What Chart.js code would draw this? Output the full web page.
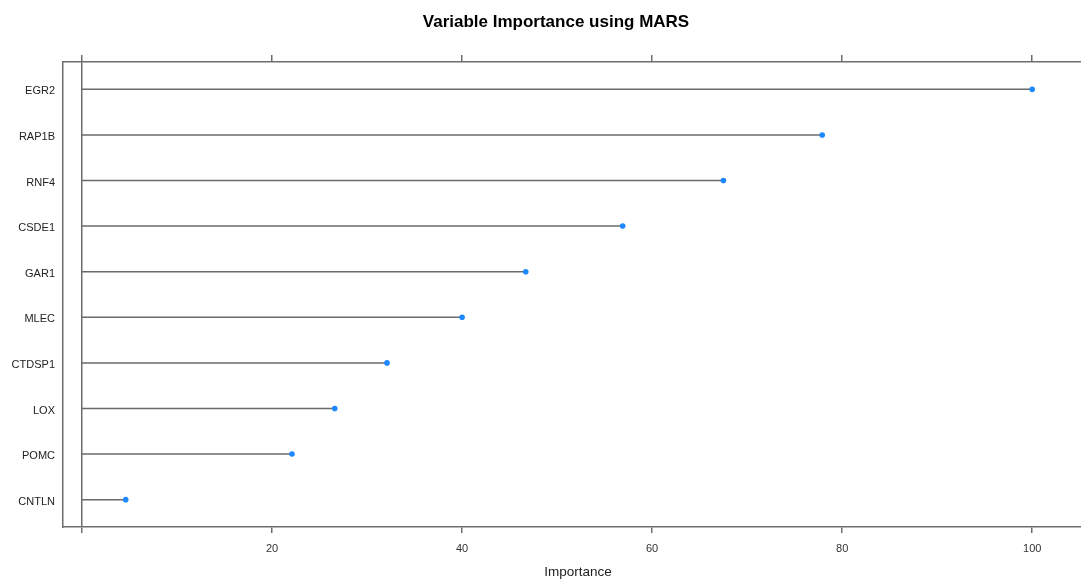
<!DOCTYPE html>
<html>
<head>
<meta charset="utf-8">
<script src="https://cdn.jsdelivr.net/npm/chart.js@4/dist/chart.umd.min.js"></script>
<style>
  html, body { margin: 0; padding: 0; overflow: hidden; background: #fff; }
  #wrap { width: 1112px; height: 580px; }
</style>
</head>
<body>
<div id="wrap"><canvas id="chart0" width="1112" height="580"></canvas></div>
<script>
// variables, top to bottom
var variables = ['EGR2', 'RAP1B', 'RNF4', 'CSDE1', 'GAR1', 'MLEC', 'CTDSP1', 'LOX', 'POMC', 'CNTLN'];
var importance = [100, 77.9, 67.5, 56.9, 46.7, 40.0, 32.1, 26.6, 22.1, 4.6];
var xTicks = [0, 20, 40, 60, 80, 100];

var axisColor = '#6e6e6e';
var labelFont = { family: 'Liberation Sans, Arial, sans-serif', size: 11 };

// one little line dataset per variable: from 0 to its importance
var datasets = variables.map(function (name, i) {
    return {
        label: name,
        data: [{ x: 0, y: i + 1 }, { x: importance[i], y: i + 1 }],
        borderColor: '#6a6a6a',
        borderWidth: 1.5,
        pointRadius: [0, 2.8],
        pointHoverRadius: [0, 2.8],
        pointBackgroundColor: '#1e88ff',
        pointBorderWidth: 0,
        showLine: true,
        fill: false
    };
});

function fixHeight(h) { return function (scale) { scale.height = h; }; }

var ctx = document.getElementById('chart0').getContext('2d');
var chart = new Chart(ctx, {
    type: 'scatter',
    data: { datasets: datasets },
    options: {
        responsive: false,
        animation: false,
        layout: { padding: 0 },
        plugins: {
            legend: { display: false },
            tooltip: { enabled: false },
            title: {
                display: true,
                text: 'Variable Importance using MARS',
                color: '#000',
                font: { family: 'Liberation Sans, Arial, sans-serif', size: 17, weight: 'bold' },
                padding: { top: 12, bottom: 21.6 }
            }
        },
        scales: {
            x: {
                type: 'linear',
                position: 'bottom',
                min: -2,
                max: 106.4,
                afterBuildTicks: function (s) { s.ticks = xTicks.map(function (v) { return { value: v }; }); },
                afterFit: fixHeight(53),
                ticks: {
                    color: '#333',
                    font: labelFont,
                    padding: 9,
                    maxRotation: 0,
                    callback: function (v) { return v === 0 ? '' : String(v); }
                },
                grid: {
                    drawOnChartArea: true,
                    color: function (c) { return c.tick && c.tick.value === 0 ? axisColor : 'rgba(0,0,0,0)'; },
                    tickColor: axisColor,
                    tickLength: 6,
                    lineWidth: 1.5
                },
                border: { color: axisColor, width: 1.5 },
                title: {
                    display: true,
                    text: 'Importance',
                    color: '#222',
                    font: { family: 'Liberation Sans, Arial, sans-serif', size: 13.5 },
                    padding: { top: 2, bottom: 0 }
                }
            },
            x2: {
                type: 'linear',
                position: 'top',
                min: -2,
                max: 106.4,
                afterBuildTicks: function (s) { s.ticks = xTicks.map(function (v) { return { value: v }; }); },
                afterFit: fixHeight(8),
                ticks: { display: false },
                grid: {
                    drawOnChartArea: false,
                    tickColor: axisColor,
                    tickLength: 7,
                    lineWidth: 1.5
                },
                border: { color: axisColor, width: 1.5 }
            },
            y: {
                type: 'linear',
                reverse: true,
                min: 0.4,
                max: 10.6,
                afterBuildTicks: function (s) { s.ticks = variables.map(function (n, i) { return { value: i + 1 }; }); },
                afterFit: function (s) { s.width = 63; },
                ticks: {
                    color: '#222',
                    font: labelFont,
                    padding: 8,
                    labelOffset: 2,
                    callback: function (v) { return variables[v - 1] || ''; }
                },
                grid: { display: true, drawOnChartArea: false, drawTicks: false },
                border: { color: axisColor, width: 1.5 }
            },
            y2: {
                type: 'linear',
                position: 'right',
                min: 0.4,
                max: 10.6,
                afterFit: function (s) { s.width = 19; },
                ticks: { display: false },
                grid: { display: false },
                border: { color: axisColor, width: 1.5 }
            }
        }
    }
});
</script>
</body>
</html>
